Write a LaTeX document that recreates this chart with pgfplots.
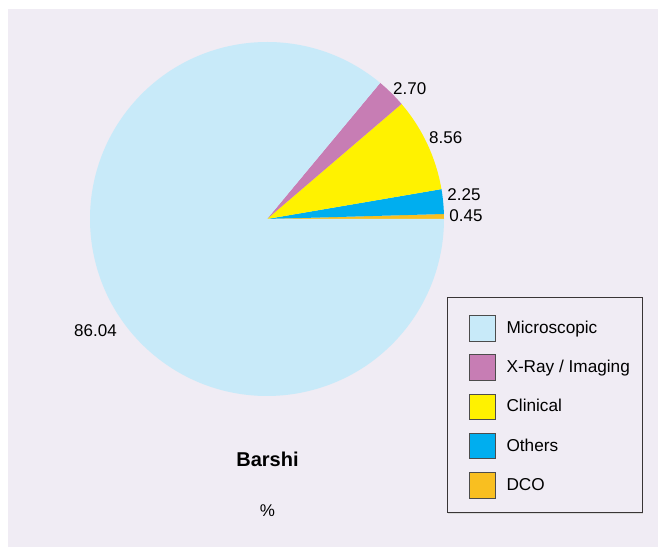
\documentclass[border=0pt]{standalone}
\usepackage{pgfplots}
\pgfplotsset{compat=1.18}
\usepackage{fontspec}
\setmainfont{Liberation Sans}

\definecolor{bgpanel}{RGB}{240,236,244}
\definecolor{cMicro}{RGB}{200,234,249}
\definecolor{cXray}{RGB}{199,125,180}
\definecolor{cClin}{RGB}{255,242,0}
\definecolor{cOther}{RGB}{0,174,239}
\definecolor{cDCO}{RGB}{249,191,32}
\definecolor{txt}{RGB}{35,31,32}

% shares in percent, slices run counter-clockwise from 3 o'clock
\def\vDCO{0.45}
\def\vOth{2.25}
\def\vClin{8.56}
\def\vXray{2.70}
\def\vMicro{86.04}

\begin{document}
\begin{tikzpicture}
\pgfmathsetmacro\aA{3.6*\vDCO}
\pgfmathsetmacro\aB{\aA+3.6*\vOth}
\pgfmathsetmacro\aC{\aB+3.6*\vClin}
\pgfmathsetmacro\aD{\aC+3.6*\vXray}
\pgfmathsetmacro\aE{\aD+3.6*\vMicro}
\begin{axis}[
    width=659pt, height=548pt, scale only axis,
    xmin=0, xmax=659, ymin=0, ymax=548,
    hide axis, clip=false,
    every node/.style={text=txt, inner sep=0pt},
]
\fill[white] (axis cs:0,0) rectangle (axis cs:659,548);
\fill[bgpanel] (axis cs:8,1) rectangle (axis cs:658,539);

% pie, centre (267,329), radius 177
\fill[cDCO] (axis cs:267,329) -- (axis cs:444,329)
    arc[start angle=0, end angle=\aA, radius=177pt] -- cycle;
\fill[cOther] (axis cs:267,329) -- (axis cs:{267+177*cos(\aA)},{329+177*sin(\aA)})
    arc[start angle=\aA, end angle=\aB, radius=177pt] -- cycle;
\fill[cClin] (axis cs:267,329) -- (axis cs:{267+177*cos(\aB)},{329+177*sin(\aB)})
    arc[start angle=\aB, end angle=\aC, radius=177pt] -- cycle;
\fill[cXray] (axis cs:267,329) -- (axis cs:{267+177*cos(\aC)},{329+177*sin(\aC)})
    arc[start angle=\aC, end angle=\aD, radius=177pt] -- cycle;
\fill[cMicro] (axis cs:267,329) -- (axis cs:{267+177*cos(\aD)},{329+177*sin(\aD)})
    arc[start angle=\aD, end angle=\aE, radius=177pt] -- cycle;

% value labels
\begin{scope}[font=\fontsize{17}{20}\selectfont]
\node at (axis cs:409.7,459.5) {\vXray};
\node at (axis cs:445.7,410) {\vClin};
\node at (axis cs:464,353.5) {\vOth};
\node at (axis cs:466,332) {\vDCO};
\node at (axis cs:95.5,217) {\vMicro};
\node at (axis cs:267.5,37.5) {\%};
\end{scope}
\node[font=\fontsize{20}{24}\selectfont\bfseries] at (axis cs:267.5,89) {Barshi};

% legend
\fill[black!15] (axis cs:448,34) rectangle (axis cs:643,36);
\draw[txt!90, line width=0.9pt, fill=bgpanel] (axis cs:447,36) rectangle (axis cs:642,251);
\begin{scope}[font=\fontsize{17.2}{20}\selectfont]
\draw[black!70, line width=0.8pt, fill=cMicro] (axis cs:469.5,207) rectangle (axis cs:495,232.5);
\node[anchor=base west] at (axis cs:503,214.7) {Microscopic};
\draw[black!70, line width=0.8pt, fill=cXray] (axis cs:469.5,167.7) rectangle (axis cs:495,193.2);
\node[anchor=base west] at (axis cs:503,175.4) {X-Ray / Imaging};
\draw[black!70, line width=0.8pt, fill=cClin] (axis cs:469.5,128.4) rectangle (axis cs:495,153.9);
\node[anchor=base west] at (axis cs:503,136.1) {Clinical};
\draw[black!70, line width=0.8pt, fill=cOther] (axis cs:469.5,89.1) rectangle (axis cs:495,114.6);
\node[anchor=base west] at (axis cs:503,96.8) {Others};
\draw[black!70, line width=0.8pt, fill=cDCO] (axis cs:469.5,49.8) rectangle (axis cs:495,75.3);
\node[anchor=base west] at (axis cs:503,57.5) {DCO};
\end{scope}
\end{axis}
\end{tikzpicture}
\end{document}
